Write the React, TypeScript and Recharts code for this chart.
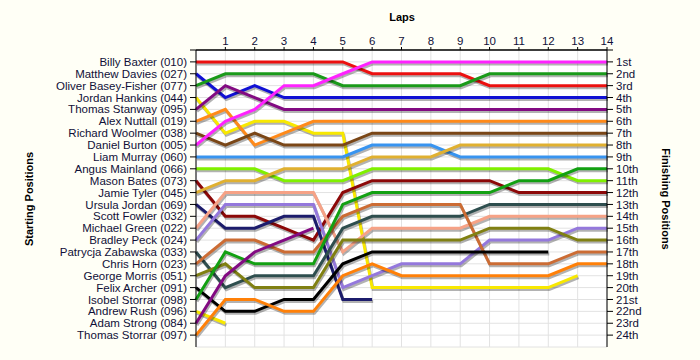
import { LineChart, Line, XAxis, YAxis, CartesianGrid } from 'recharts'

const laps = [0, 1, 2, 3, 4, 5, 6, 7, 8, 9, 10, 11, 12, 13, 14]
const lapTicks = [1, 2, 3, 4, 5, 6, 7, 8, 9, 10, 11, 12, 13, 14]

const startingGrid = [
  'Billy Baxter (010)',
  'Matthew Davies (027)',
  'Oliver Basey-Fisher (077)',
  'Jordan Hankins (044)',
  'Thomas Stanway (095)',
  'Alex Nuttall (019)',
  'Richard Woolmer (038)',
  'Daniel Burton (005)',
  'Liam Murray (060)',
  'Angus Mainland (066)',
  'Mason Bates (073)',
  'Jamie Tyler (045)',
  'Ursula Jordan (069)',
  'Scott Fowler (032)',
  'Michael Green (022)',
  'Bradley Peck (024)',
  'Patrycja Zabawska (033)',
  'Chris Horn (023)',
  'George Morris (051)',
  'Felix Archer (091)',
  'Isobel Storrar (098)',
  'Andrew Rush (096)',
  'Adam Strong (084)',
  'Thomas Storrar (097)',
]

const finishLabels = [
  '1st', '2nd', '3rd', '4th', '5th', '6th', '7th', '8th', '9th', '10th', '11th', '12th',
  '13th', '14th', '15th', '16th', '17th', '18th', '19th', '20th', '21st', '22nd', '23rd', '24th',
]

// position after each lap (lap 0 = grid), null once out of the race
const n = null
const billyBaxter = [1, 1, 1, 1, 1, 1, 2, 2, 2, 2, 3, 3, 3, 3, 3]
const matthewDavies = [2, 4, 3, 4, 4, 4, 4, 4, 4, 4, 4, 4, 4, 4, 4]
const oliverBaseyFisher = [3, 2, 2, 2, 2, 3, 3, 3, 3, 3, 2, 2, 2, 2, 2]
const jordanHankins = [4, 7, 6, 6, 7, 7, 20, 20, 20, 20, 20, 20, 20, 19, n]
const thomasStanway = [5, 3, 4, 5, 5, 5, 5, 5, 5, 5, 5, 5, 5, 5, 5]
const alexNuttall = [6, 5, 8, 7, 6, 6, 6, 6, 6, 6, 6, 6, 6, 6, 6]
const richardWoolmer = [7, 8, 7, 8, 8, 8, 7, 7, 7, 7, 7, 7, 7, 7, 7]
const danielBurton = [8, 6, 5, 3, 3, 2, 1, 1, 1, 1, 1, 1, 1, 1, 1]
const liamMurray = [9, 9, 9, 9, 9, 9, 8, 8, 8, 9, 9, 9, 9, 9, 9]
const angusMainland = [10, 10, 10, 11, 11, 11, 10, 10, 10, 10, 10, 10, 10, 11, 11]
const masonBates = [11, 14, 14, 15, 16, 12, 11, 11, 11, 11, 11, 12, 12, 12, 12]
const jamieTyler = [12, 11, 11, 10, 10, 10, 9, 9, 9, 8, 8, 8, 8, 8, 8]
const ursulaJordan = [13, 15, 15, 14, 14, 21, 21, n, n, n, n, n, n, n, n]
const michaelGreen = [15, 12, 12, 12, 12, 17, 15, 15, 15, 15, 14, 14, 14, 14, 14]
const bradleyPeck = [16, 13, 13, 13, 13, 20, 19, 18, 18, 18, 16, 16, 16, 15, 15]
const patrycjaZabawska = [17, 20, 19, 19, 19, 15, 14, 14, 14, 14, 13, 13, 13, 13, 13]
const chrisHorn = [18, 16, 16, 17, 17, 14, 13, 13, 13, 13, 18, 18, 18, 17, 17]
const georgeMorris = [19, 18, 20, 20, 20, 16, 16, 16, 16, 16, 15, 15, 15, 16, 16]
const felixArcher = [20, 22, 22, 21, 21, 18, 17, 17, 17, 17, 17, 17, 17, n, n]
const isobelStorrar = [21, 17, 18, 18, 18, 13, 12, 12, 12, 12, 12, 11, 11, 10, 10]
const andrewRush = [22, 23, n, n, n, n, n, n, n, n, n, n, n, n, n]
const adamStrong = [23, 19, 17, 16, 15, n, n, n, n, n, n, n, n, n, n]
const thomasStorrar = [24, 21, 21, 22, 22, 19, 18, 19, 19, 19, 19, 19, 19, 18, 18]

const series = [
  { key: 'd01', pos: billyBaxter, color: '#ec1010' },
  { key: 'd02', pos: matthewDavies, color: '#1010d4' },
  { key: 'd03', pos: oliverBaseyFisher, color: '#1a9a1a' },
  { key: 'd04', pos: jordanHankins, color: '#f8e800' },
  { key: 'd05', pos: thomasStanway, color: '#820a82' },
  { key: 'd06', pos: alexNuttall, color: '#ff8a1a' },
  { key: 'd07', pos: richardWoolmer, color: '#7a4616' },
  { key: 'd08', pos: danielBurton, color: '#ff22ff' },
  { key: 'd09', pos: liamMurray, color: '#3894f0' },
  { key: 'd10', pos: angusMainland, color: '#80f000' },
  { key: 'd11', pos: masonBates, color: '#8c0808' },
  { key: 'd12', pos: jamieTyler, color: '#e0b030' },
  { key: 'd13', pos: ursulaJordan, color: '#1c1c6c' },
  { key: 'd15', pos: michaelGreen, color: '#f6a286' },
  { key: 'd16', pos: bradleyPeck, color: '#9478dc' },
  { key: 'd17', pos: patrycjaZabawska, color: '#2e4e4e' },
  { key: 'd18', pos: chrisHorn, color: '#cc6c34' },
  { key: 'd19', pos: georgeMorris, color: '#808012' },
  { key: 'd20', pos: felixArcher, color: '#000000' },
  { key: 'd21', pos: isobelStorrar, color: '#12a012' },
  { key: 'd22', pos: andrewRush, color: '#f8e800' },
  { key: 'd23', pos: adamStrong, color: '#820a82' },
  { key: 'd24', pos: thomasStorrar, color: '#ff8008' },
]

const data = laps.map((lap, i) => {
  const row: Record<string, number | null> = { lap }
  series.forEach((s) => {
    row[s.key] = s.pos[i]
  })
  return row
})

const rowTicks = [0, 1, 2, 3, 4, 5, 6, 7, 8, 9, 10, 11, 12, 13, 14, 15, 16, 17, 18, 19, 20, 21, 22, 23, 24]
const textColor = '#101038'
const font = '"Liberation Sans", Arial, sans-serif'

export default function App() {
  return (
    <div
      style={{
        position: 'absolute',
        left: 0,
        top: 0,
        width: 700,
        height: 360,
        background: '#fffff6',
        fontFamily: font,
      }}
    >
      <style>{`.recharts-line-curve { filter: drop-shadow(1px 2px 0px rgba(0,0,0,0.3)); }`}</style>
      <div
        style={{
          position: 'absolute',
          left: 402,
          top: 17,
          transform: 'translate(-50%, -50%)',
          fontSize: 11,
          fontWeight: 'bold',
          color: '#000',
        }}
      >
        Laps
      </div>
      <div
        style={{
          position: 'absolute',
          left: 29,
          top: 199,
          transform: 'translate(-50%, -50%) rotate(-90deg)',
          fontSize: 11,
          fontWeight: 'bold',
          color: '#000',
          whiteSpace: 'nowrap',
        }}
      >
        Starting Positions
      </div>
      <div
        style={{
          position: 'absolute',
          left: 666,
          top: 199,
          transform: 'translate(-50%, -50%) rotate(90deg)',
          fontSize: 11,
          fontWeight: 'bold',
          color: '#000',
          whiteSpace: 'nowrap',
        }}
      >
        Finishing Positions
      </div>
      <div style={{ position: 'absolute', left: 0, top: 0 }}>
        <LineChart width={700} height={360} data={data} margin={{ top: 30, right: 0, bottom: 13, left: 0 }}>
          <CartesianGrid stroke="#e2e2e2" fill="#ffffff" yAxisId="left" />
          <XAxis
            dataKey="lap"
            type="number"
            orientation="top"
            domain={[0, 14]}
            ticks={lapTicks}
            interval={0}
            height={20}
            tickSize={3}
            tickMargin={2}
            axisLine={{ stroke: '#000', strokeWidth: 1.5 }}
            tickLine={{ stroke: '#000' }}
            tick={{ fill: textColor, fontSize: 11.5 }}
          />
          <YAxis
            yAxisId="left"
            type="number"
            domain={[0, 25]}
            allowDataOverflow
            reversed
            ticks={rowTicks}
            interval={0}
            width={196}
            tickSize={6}
            tickMargin={3}
            stroke="#000"
            tick={{ fill: textColor, fontSize: 11.5 }}
            tickFormatter={(v: number) => (v === 0 ? '' : startingGrid[v - 1])}
          />
          <YAxis
            yAxisId="right"
            orientation="right"
            type="number"
            domain={[0, 25]}
            allowDataOverflow
            reversed
            ticks={rowTicks}
            interval={0}
            width={93}
            tickSize={6}
            tickMargin={3}
            stroke="#000"
            tick={{ fill: textColor, fontSize: 11.5 }}
            tickFormatter={(v: number) => (v === 0 ? '' : finishLabels[v - 1])}
          />
          {series.map((s, i) => (
            <Line
              key={s.key}
              yAxisId={i % 2 === 0 ? 'left' : 'right'}
              dataKey={s.key}
              type="linear"
              stroke={s.color}
              strokeWidth={3}
              dot={false}
              activeDot={false}
              isAnimationActive={false}
            />
          ))}
        </LineChart>
      </div>
    </div>
  )
}
